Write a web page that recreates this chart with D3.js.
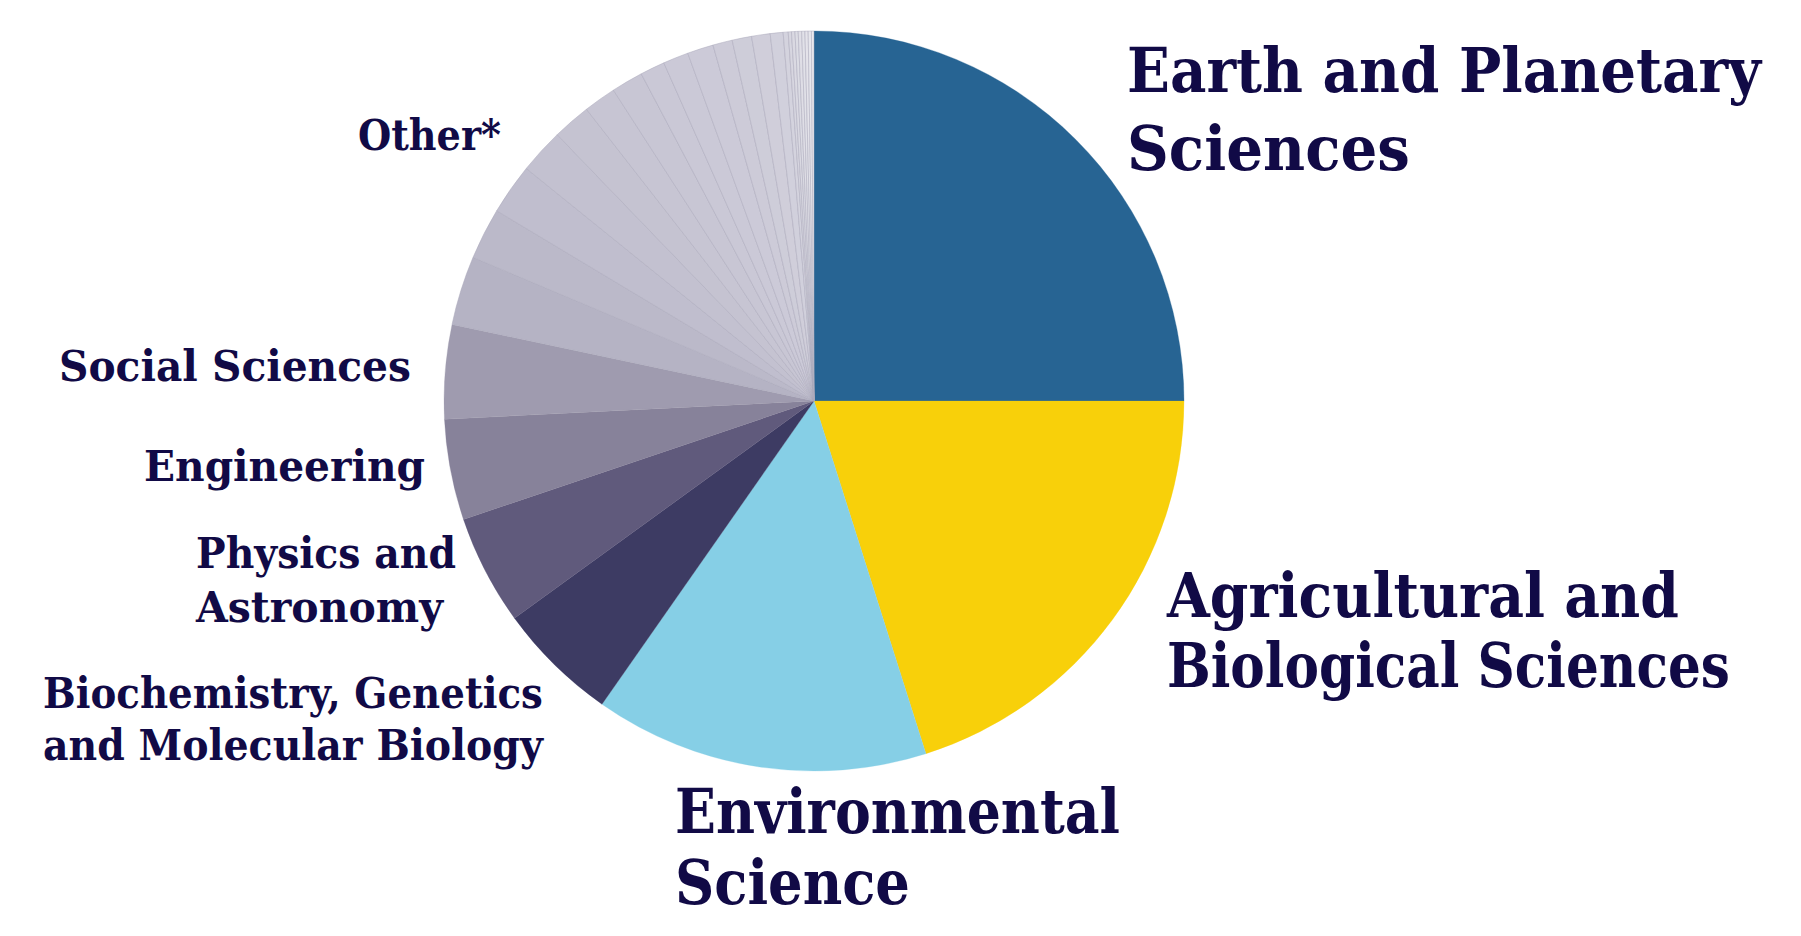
<!DOCTYPE html>
<html>
<head>
<meta charset="utf-8">
<script src="https://cdn.jsdelivr.net/npm/d3@7"></script>
<style>
  body { margin: 0; background: #fff; }
</style>
</head>
<body>
<div id="chart"></div>
<script>
// subject areas, share of publications (%)
var categories = ["Earth and Planetary Sciences", "Agricultural and Biological Sciences",
  "Environmental Science", "Biochemistry, Genetics and Molecular Biology",
  "Physics and Astronomy", "Engineering", "Social Sciences"];
var shares = [25.0, 20.1, 14.6, 5.3, 4.8, 4.4, 4.1];
var colors = ["#276493", "#f8d00a", "#86cfe6", "#3d3b63", "#605a7c", "#87829a", "#9f9baf"];

// the small areas that make up "Other*"
var otherShares = [3.03, 2.25, 2.22, 1.97, 1.67, 1.42, 1.39, 1.08, 1.11, 1.14, 0.85, 0.85,
  0.81, 0.56, 0.22, 0.14, 0.15, 0.14, 0.15, 0.14, 0.14, 0.14, 0.11];
var otherColors = ["#b5b3c4", "#bbb9c9", "#c0bece", "#c3c1d0", "#c5c3d1", "#c7c5d3", "#c8c6d4",
  "#cac8d6", "#cbc9d7", "#cccad8", "#cdcbd8", "#cecdd9", "#d0ceda", "#d1d0dc", "#d4d3de",
  "#d7d6e0", "#dad9e2", "#dcdce4", "#dfdee6", "#e1e1e8", "#e4e3ea", "#e6e6ec", "#e9e9ee"];

// label text, split in lines
var labelLines = [["Earth and Planetary", "Sciences"], ["Agricultural and", "Biological Sciences"],
  ["Environmental", "Science"], ["Biochemistry, Genetics", "and Molecular Biology"],
  ["Physics and", "Astronomy"], ["Engineering"], ["Social Sciences"], ["Other*"]];

var width = 1801, height = 936;
var cx = 814, cy = 401, radius = 370;

var svg = d3.select("#chart")
  .append("svg")
    .attr("width", width)
    .attr("height", height);

var slices = categories.map(function(c, i) { return {name: c, value: shares[i], color: colors[i], other: false}; })
  .concat(otherShares.map(function(v, i) { return {name: "Other " + (i + 1), value: v, color: otherColors[i], other: true}; }));

var pie = d3.pie()
  .sort(null)
  .value(function(d) { return d.value; });

var arc = d3.arc()
  .innerRadius(0)
  .outerRadius(radius);

var g = svg.append("g")
  .attr("transform", "translate(" + cx + "," + cy + ")");

g.selectAll("path")
  .data(pie(slices))
  .enter()
  .append("path")
    .attr("d", arc)
    .style("fill", function(d) { return d.data.color; })
    .style("stroke", function(d) { return d.data.other ? "#aba9bb" : d.data.color; })
    .style("stroke-width", function(d) { return d.data.other ? 0.5 : 0.3; });

// label placement: left x, first baseline, line step, font size, width of each line
var big = 61.5, small = 43.5;
var labelPos = [
  {x: 1127, y: 91.5, step: 78, size: big, w: [634, 283]},
  {x: 1167, y: 616.5, step: 70, size: big, w: [512, 563]},
  {x: 675, y: 833, step: 71, size: big, w: [445, 235]},
  {x: 43, y: 708.3, step: 51.7, size: small, w: [500, 500]},
  {x: 196, y: 568.3, step: 53.4, size: small, w: [260, 247]},
  {x: 144, y: 481, step: 0, size: small, w: [281]},
  {x: 59, y: 381, step: 0, size: small, w: [352]},
  {x: 358, y: 150, step: 0, size: small, w: [143]}
];

labelLines.forEach(function(lines, i) {
  var p = labelPos[i];
  lines.forEach(function(line, j) {
    var t = svg.append("text")
      .attr("x", 0)
      .attr("y", 0)
      .style("font-family", "'DejaVu Serif', serif")
      .style("font-weight", "bold")
      .style("font-size", p.size + "px")
      .style("fill", "#110a46")
      .text(line);
    // squeeze each line to the width it has in the original
    var sx = p.w[j] / t.node().getComputedTextLength();
    t.attr("transform", "translate(" + p.x + "," + (p.y + j * p.step) + ") scale(" + sx + ",1)");
  });
});
</script>
</body>
</html>
